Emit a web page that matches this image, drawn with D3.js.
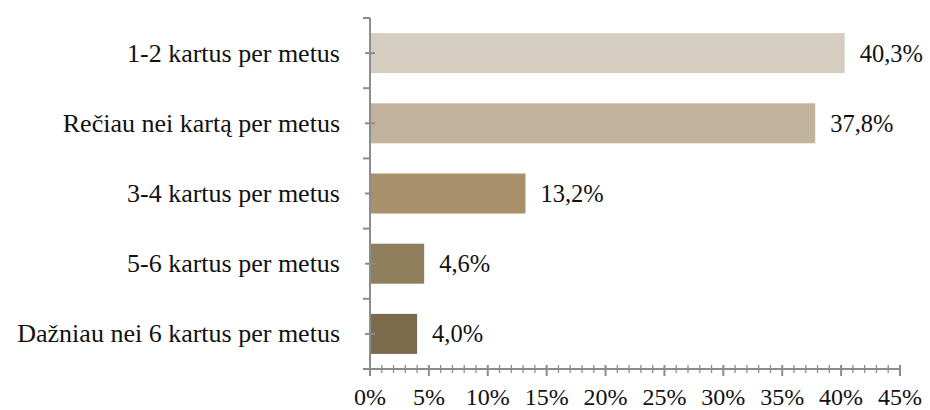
<!DOCTYPE html>
<html><head><meta charset="utf-8">
<script src="https://cdn.jsdelivr.net/npm/d3@7"></script>
<style>body{margin:0;background:#fff}svg{display:block}</style>
</head><body>
<svg id="c" width="930" height="410"></svg>
<script>
const categories = ["1-2 kartus per metus","Rečiau nei kartą per metus","3-4 kartus per metus","5-6 kartus per metus","Dažniau nei 6 kartus per metus"];
const values = [40.3, 37.8, 13.2, 4.6, 4.0];
const valueLabels = ["40,3%","37,8%","13,2%","4,6%","4,0%"];
const colors = ["#d6cdc1","#c1b39d","#a8916b","#8f7f5c","#7b6b4c"];
const xTicks = [0,5,10,15,20,25,30,35,40,45];

const svg = d3.select("#c");
const pL = 370, pR = 900, pT = 18, pB = 369;
const font = "'Liberation Serif','Times New Roman',serif";
const axisColor = "#8c8c8c";

const x = d3.scaleLinear().domain([0,45]).range([pL,pR]);
const y = d3.scaleBand().domain(categories).range([pT,pB]).paddingInner(0.43).paddingOuter(0.215);
const yb = d3.scaleBand().domain(categories).range([pT,pB]);

svg.selectAll("rect.bar").data(categories).join("rect")
  .attr("x", x(0)).attr("y", d=>y(d))
  .attr("width", (d,i)=>x(values[i])-x(0)).attr("height", y.bandwidth())
  .attr("fill",(d,i)=>colors[i]);

svg.selectAll("text.val").data(categories).join("text")
  .attr("x",(d,i)=>x(values[i])+15).attr("y",d=>y(d)+y.bandwidth()/2)
  .attr("dy","0.35em").attr("font-family",font).attr("font-size",24.5).attr("fill","#111")
  .text((d,i)=>valueLabels[i]);

svg.selectAll("text.cat").data(categories).join("text")
  .attr("x",340).attr("y",d=>yb(d)+yb.bandwidth()/2)
  .attr("dy","0.33em").attr("text-anchor","end").attr("font-family",font).attr("font-size",26).attr("fill","#111")
  .text(d=>d);

const g = svg.append("g").attr("stroke",axisColor).attr("stroke-width",2);
g.append("line").attr("x1",pL).attr("x2",pL).attr("y1",pT).attr("y2",pB);
const bounds = categories.map(d=>yb(d)).concat([pB]);
g.selectAll("line.yb").data(bounds).join("line")
  .attr("x1",pL-7).attr("x2",pL).attr("y1",d=>d).attr("y2",d=>d);
g.selectAll("line.yc").data(categories).join("line")
  .attr("x1",pL-5).attr("x2",pL+5).attr("y1",d=>yb(d)+yb.bandwidth()/2).attr("y2",d=>yb(d)+yb.bandwidth()/2);

g.append("line").attr("x1",pL-7).attr("x2",pR).attr("y1",pB).attr("y2",pB);
const minor = d3.range(0,46,1).filter(v=>v%5!==0);
g.selectAll("line.xm").data(minor).join("line")
  .attr("x1",d=>x(d)).attr("x2",d=>x(d)).attr("y1",pB-4).attr("y2",pB+4).attr("stroke-width",1.3);
g.selectAll("line.xM").data(xTicks).join("line")
  .attr("x1",d=>x(d)).attr("x2",d=>x(d)).attr("y1",pB-4).attr("y2",pB+7);

svg.selectAll("text.xt").data(xTicks).join("text")
  .attr("x",d=>x(d)).attr("y",pB+36).attr("text-anchor","middle")
  .attr("font-family",font).attr("font-size",24).attr("fill","#111")
  .text(d=>d+"%");
</script>
</body></html>
